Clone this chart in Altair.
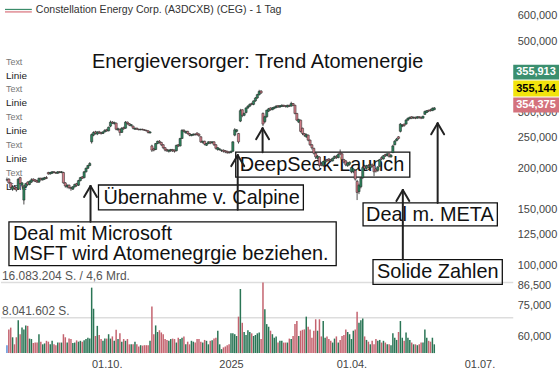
import altair as alt
import pandas as pd

# ---------------- data ----------------
opens = [
    185, 186, 181, 173, 176, 175, 173, 188, 178, 160,
    176, 182, 179, 182, 186, 185, 184, 182, 187, 185,
    186, 188, 195, 193, 194, 196, 195, 194, 196, 195,
    195, 181, 176, 178, 175, 173, 176, 180, 178, 184,
    189, 188, 196, 201, 205, 243, 255, 261, 257, 261,
    260, 258, 261, 265, 263, 272, 280, 277, 278, 265,
    266, 260, 269, 268, 280, 277, 273, 272, 266, 268,
    266, 265, 266, 265, 264, 263, 259, 236, 231, 230,
    240, 244, 242, 238, 233, 230, 227, 228, 230, 229,
    228, 238, 236, 249, 264, 259, 262, 258, 254, 255,
    257, 259, 257, 252, 242, 244, 237, 240, 243, 241,
    243, 238, 230, 230, 228, 229, 228, 227, 226, 225,
    227, 255, 262, 258, 282, 306, 294, 300, 310, 314,
    320, 318, 326, 333, 341, 350, 298, 281, 291, 303,
    310, 306, 309, 311, 315, 312, 313, 316, 315, 312,
    316, 314, 320, 316, 298, 280, 284, 268, 258, 252,
    255, 246, 238, 232, 224, 216, 218, 208, 205, 210,
    214, 215, 214, 212, 216, 219, 217, 225, 223, 214,
    212, 205, 207, 196, 196, 198, 183, 170, 176, 188,
    204, 201, 205, 202, 206, 205, 200, 198, 204, 217,
    215, 222, 220, 223, 218, 225, 238, 245, 252, 262,
    272, 276, 276, 284, 287, 291, 288, 290, 288, 291,
    290, 288, 296, 300, 305, 306, 304, 306,
]
closes = [
    185, 181, 175, 176, 174, 172, 186, 180, 181, 176,
    180, 179, 183, 185, 184, 183, 182, 187, 185, 187,
    188, 187, 193, 195, 196, 195, 194, 196, 195, 196,
    181, 177, 178, 175, 174, 176, 179, 178, 184, 188,
    187, 196, 201, 205, 208, 256, 260, 258, 261, 259,
    258, 261, 264, 263, 270, 280, 278, 279, 266, 267,
    260, 268, 267, 280, 277, 274, 275, 268, 268, 266,
    265, 266, 265, 264, 263, 260, 261, 229, 229, 240,
    244, 242, 238, 233, 229, 228, 229, 230, 228, 227,
    237, 236, 249, 264, 262, 262, 258, 255, 256, 257,
    256, 256, 254, 243, 244, 239, 240, 243, 241, 243,
    238, 232, 233, 231, 229, 227, 226, 225, 225, 227,
    243, 265, 265, 243, 304, 294, 298, 310, 314, 318,
    318, 326, 333, 341, 349, 345, 276, 291, 305, 308,
    306, 310, 312, 314, 312, 315, 316, 314, 313, 316,
    314, 320, 316, 298, 284, 285, 262, 258, 255, 256,
    246, 238, 233, 224, 218, 219, 205, 206, 211, 213,
    212, 213, 212, 216, 219, 217, 222, 223, 214, 210,
    206, 209, 210, 202, 200, 186, 169, 178, 187, 202,
    201, 205, 203, 206, 204, 196, 197, 203, 214, 215,
    220, 220, 223, 219, 221, 236, 244, 248, 249, 276,
    274, 273, 284, 288, 290, 288, 290, 288, 291, 289,
    288, 292, 302, 304, 303, 304, 309, 310,
]
highs = [
    188, 187, 182, 177, 178, 176, 187, 189, 182, 177,
    181, 183, 184, 187, 187, 186, 185, 188, 188, 188,
    189, 190, 196, 196, 197, 197, 196, 197, 197, 197,
    196, 182, 179, 179, 176, 177, 180, 181, 185, 189,
    190, 197, 202, 206, 210, 258, 262, 263, 262, 263,
    261, 262, 266, 267, 271, 283, 282, 281, 279, 269,
    267, 270, 271, 282, 281, 278, 276, 273, 269, 269,
    267, 267, 267, 266, 265, 264, 262, 238, 233, 241,
    245, 246, 243, 239, 234, 231, 230, 231, 231, 230,
    238, 239, 250, 266, 266, 263, 263, 259, 257, 258,
    258, 260, 258, 253, 245, 245, 241, 244, 244, 244,
    244, 239, 234, 232, 230, 230, 229, 228, 227, 228,
    244, 268, 266, 259, 308, 307, 300, 311, 316, 320,
    322, 327, 335, 343, 353, 352, 300, 293, 306, 310,
    311, 312, 313, 316, 316, 316, 318, 317, 316, 317,
    317, 324, 321, 317, 299, 287, 285, 269, 259, 258,
    256, 247, 239, 233, 225, 221, 219, 210, 212, 214,
    215, 216, 215, 217, 220, 221, 224, 230, 224, 215,
    213, 210, 211, 203, 201, 199, 185, 180, 189, 204,
    206, 206, 207, 207, 208, 206, 201, 204, 215, 219,
    221, 223, 224, 224, 222, 238, 246, 250, 253, 278,
    276, 277, 286, 289, 291, 292, 291, 291, 292, 292,
    291, 293, 304, 305, 306, 308, 311, 312,
]
lows = [
    183, 180, 173, 171, 173, 170, 172, 178, 176, 155,
    174, 177, 178, 181, 183, 182, 181, 181, 184, 184,
    185, 186, 192, 192, 193, 194, 193, 193, 194, 194,
    180, 175, 174, 173, 171, 172, 175, 176, 177, 183,
    186, 187, 195, 200, 204, 240, 253, 256, 255, 257,
    256, 257, 260, 261, 262, 270, 276, 275, 264, 263,
    254, 259, 265, 267, 275, 272, 271, 266, 265, 265,
    264, 264, 264, 263, 262, 258, 258, 226, 227, 229,
    239, 240, 236, 231, 227, 226, 225, 226, 226, 225,
    227, 234, 235, 248, 260, 258, 256, 253, 253, 254,
    254, 254, 252, 241, 240, 237, 236, 239, 239, 240,
    236, 230, 228, 228, 226, 225, 224, 223, 223, 224,
    226, 253, 260, 240, 280, 290, 292, 298, 308, 312,
    316, 316, 324, 331, 339, 343, 272, 278, 289, 301,
    304, 305, 307, 309, 310, 310, 312, 312, 311, 311,
    312, 313, 314, 296, 282, 278, 260, 255, 252, 250,
    244, 236, 230, 222, 215, 214, 202, 204, 203, 208,
    210, 211, 210, 211, 215, 215, 216, 221, 212, 208,
    204, 203, 205, 194, 194, 184, 160, 167, 174, 186,
    199, 199, 201, 200, 202, 190, 195, 196, 203, 213,
    214, 218, 219, 217, 217, 224, 237, 244, 247, 260,
    270, 271, 275, 283, 286, 286, 287, 286, 287, 287,
    286, 287, 295, 299, 301, 302, 303, 305,
]
# volume in millions of shares
volumes = [
    1.8, 5.4, 5.8, 3.6, 2.0, 3.6, 7.5, 4.3, 5.8, 5.4,
    6.3, 6.2, 3.3, 3.2, 2.3, 2.4, 2.4, 4.3, 2.6, 2.0,
    2.2, 2.8, 2.6, 2.0, 2.8, 2.0, 1.8, 2.4, 2.4, 2.4,
    4.3, 3.6, 2.4, 3.3, 3.2, 2.3, 2.4, 2.9, 2.6, 2.8,
    2.6, 2.9, 3.2, 3.5, 3.3, 14.9, 10.1, 3.9, 6.2, 4.1,
    3.2, 2.8, 3.3, 3.3, 4.3, 3.3, 3.8, 2.8, 5.3, 3.2,
    4.5, 2.6, 3.2, 2.8, 3.2, 2.0, 2.0, 2.0, 2.6, 2.0,
    1.5, 1.8, 1.7, 1.8, 1.8, 1.8, 2.8, 10.6, 4.3, 6.3,
    4.8, 5.2, 4.7, 4.3, 3.2, 3.0, 2.8, 3.2, 3.3, 3.2,
    2.4, 3.5, 3.2, 3.5, 3.8, 2.0, 2.6, 2.0, 2.8, 2.6,
    2.4, 3.2, 3.2, 2.6, 2.4, 3.0, 2.8, 2.0, 2.8, 2.9,
    3.3, 3.5, 5.1, 2.0, 0.9, 1.3, 1.5, 1.8, 2.0, 4.5,
    4.5, 4.3, 3.9, 8.3, 14.6, 6.9, 4.8, 4.1, 5.2, 4.8,
    4.5, 3.9, 4.1, 4.5, 4.7, 3.2, 16.08, 10.0, 6.6, 6.0,
    5.1, 4.3, 3.5, 3.8, 2.4, 2.8, 2.8, 2.4, 2.4, 2.4,
    3.3, 3.2, 3.9, 6.6, 7.3, 3.9, 5.1, 5.3, 5.4, 8.3,
    6.0, 5.4, 3.5, 5.1, 7.7, 5.1, 7.7, 3.8, 7.3, 3.5,
    3.8, 3.2, 2.8, 2.4, 3.3, 3.8, 2.4, 3.0, 3.9, 4.1,
    5.4, 4.8, 4.3, 3.2, 5.1, 5.4, 9.4, 6.9, 7.5, 7.9,
    3.8, 3.0, 2.6, 2.0, 2.8, 2.0, 3.2, 2.8, 3.0, 2.4,
    2.8, 2.4, 2.0, 2.0, 1.8, 4.5, 3.5, 3.0, 4.8, 7.3,
    3.5, 2.8, 4.7, 3.5, 3.0, 2.4, 2.0, 2.0, 1.8, 2.0,
    2.4, 2.4, 5.4, 3.5, 2.8, 2.6, 3.5, 2.0,
]

tick_idx = [53, 119, 183, 251]
tick_labels = ["01.10.", "2025", "01.04.", "01.07."]
price_ticks = [60, 75, 86.5, 100, 125, 150, 200, 250, 300, 400, 500, 600]
vol_lines = [16.083204, 8.041602]
vol_line_labels = ["16.083.204 S. / 4,6 Mrd.", "8.041.602 S."]
last_tags = ["355,913", "355,144", "354,375"]
header = "Constellation Energy Corp. (A3DCXB) (CEG) - 1 Tag"
title = "Energieversorger: Trend Atomenergie"
side_texts = ["Text", "Linie", "Text", "Linie", "Text", "Linie", "Text", "Linie", "Text", "Linie"]
notes = ["Übernahme v. Calpine", "Deal mit Microsoft", "MSFT wird Atomenegrgie beziehen.",
         "DeepSeek-Launch", "Deal m. META", "Solide Zahlen"]

# ---------------- layout / style constants ----------------
W, H = 515, 354
FONT = "Liberation Sans"
C_UP, C_DN, C_FLAT = "#2d865e", "#d27c87", "#5b8fd6"
V_UP, V_DN, V_FLAT = "#2a7555", "#c4636f", "#5b8fd6"

note_pos = [(103, 198), (12, 234), (12, 254), (240, 165), (367, 215), (378, 273)]
box_pos = [(98, 304, 185, 210), (8, 337, 222, 266), (236, 411, 152, 177),
           (364, 499, 203, 226), (374, 504, 260, 285)]
arrow_pos = [(90, 186, 222), (238, 155, 210), (263, 128, 152), (404, 190, 260), (439, 123, 203)]
side_y = [61, 75, 89, 103, 117, 131, 145, 159, 173, 187]
tag_pos = [(64, 79, "#3b8f6f", "white"), (80, 96, "#f2e40c", "black"), (97, 112, "#d4727d", "white")]

# ---------------- frames ----------------
def direction(o, c):
    return "up" if c > o else ("down" if c < o else "flat")

df = pd.DataFrame({
    "idx": list(range(len(closes))),
    "open": opens, "close": closes, "high": highs, "low": lows,
    "vol": volumes,
    "dir": [direction(o, c) for o, c in zip(opens, closes)],
})

x_scale = alt.Scale(domain=[-0.52, 266.3], nice=False, zero=False)
price_scale = alt.Scale(type="log", domain=[53.35, 667.8], nice=False, zero=False)
vol_scale = alt.Scale(domain=[0, 80.17], nice=False, zero=True)

label_expr = "''"
for v, t in reversed(list(zip(tick_idx, tick_labels))):
    label_expr = f"datum.value == {v} ? '{t}' : ({label_expr})"

x_axis = alt.Axis(values=tick_idx, labelExpr=label_expr, grid=False, ticks=False, domain=False,
                  labelFontSize=11, labelColor="#444", labelPadding=5, labelFont=FONT,
                  title=None, labelFlush=False)
y_axis = alt.Axis(orient="right", values=price_ticks, labelExpr="format(datum.value * 1000, ',')",
                  grid=False, ticks=False, domain=False, labelFontSize=11, labelColor="#444",
                  labelPadding=4, labelFont=FONT, title=None, labelOverlap=False, labelFlush=False)

X = alt.X("idx:Q", scale=x_scale, axis=x_axis)
base = alt.Chart(df)

# left "Text / Linie" column
side_df = pd.DataFrame({"t": side_texts, "y": side_y,
                        "c": ["#777777" if s == "Text" else "#222222" for s in side_texts],
                        "s": [9 if s == "Text" else 10 for s in side_texts]})
side = alt.Chart(side_df).mark_text(align="left", baseline="middle", font=FONT).encode(
    x=alt.value(5), y=alt.Y("y:Q", scale=None), text="t:N",
    color=alt.Color("c:N", scale=None), size=alt.Size("s:Q", scale=None))

# volume grid + labels
vl_df = pd.DataFrame({"v": vol_lines, "t": vol_line_labels})
vgrid = alt.Chart(vl_df).mark_rule(color="#dddddd", strokeWidth=1.5).encode(
    y=alt.Y("v:Q", scale=vol_scale, axis=None), x=alt.value(0), x2=alt.value(W))
vtext = alt.Chart(vl_df).mark_text(align="left", baseline="middle", dy=-6.5, fontSize=12,
                                   font=FONT, color="#555555").encode(
    y=alt.Y("v:Q", scale=vol_scale, axis=None), x=alt.value(1), text="t:N")

vbars = base.mark_bar(size=1.5).encode(
    x=X, y=alt.Y("vol:Q", scale=vol_scale, axis=None),
    color=alt.Color("dir:N", scale=alt.Scale(domain=["up", "down", "flat"], range=[V_UP, V_DN, V_FLAT]),
                    legend=None))

# annotation boxes + texts
box_df = pd.DataFrame(box_pos, columns=["x1", "x2", "y1", "y2"])
boxes = alt.Chart(box_df).mark_rect(fillOpacity=0, stroke="#111111", strokeWidth=1.3).encode(
    x=alt.X("x1:Q", scale=None), x2="x2:Q", y=alt.Y("y1:Q", scale=None), y2="y2:Q")
note_df = pd.DataFrame({"t": notes, "x": [p[0] for p in note_pos], "y": [p[1] for p in note_pos]})
note_text = alt.Chart(note_df).mark_text(align="left", baseline="middle", fontSize=20, font=FONT,
                                         color="#111111").encode(
    x=alt.X("x:Q", scale=None), y=alt.Y("y:Q", scale=None), text="t:N")

# candles
wicks = base.mark_rule(color="#222222", strokeWidth=0.8).encode(
    x=X, y=alt.Y("low:Q", scale=price_scale, axis=y_axis), y2="high:Q")
bodies = base.mark_bar(size=2.2, stroke="#222222", strokeWidth=0.5).encode(
    x=X, y=alt.Y("open:Q", scale=price_scale, axis=None), y2="close:Q",
    color=alt.Color("dir:N", scale=alt.Scale(domain=["up", "down", "flat"], range=[C_UP, C_DN, C_FLAT]),
                    legend=None))

# arrows (shaft + chevron head)
segs = []
for ax, tip, bottom in arrow_pos:
    segs.append((ax, ax, tip, bottom))
    segs.append((ax - 6.5, ax, tip + 11, tip))
    segs.append((ax + 6.5, ax, tip + 11, tip))
seg_df = pd.DataFrame(segs, columns=["x1", "x2", "y1", "y2"])
arrows = alt.Chart(seg_df).mark_rule(strokeWidth=2, color="#222222", strokeCap="round").encode(
    x=alt.X("x1:Q", scale=None), x2="x2:Q", y=alt.Y("y1:Q", scale=None), y2="y2:Q")

# header legend
one = pd.DataFrame({"k": [0]})
icon_g = alt.Chart(one).mark_rule(color="#3a8c6a", strokeWidth=1.2).encode(
    x=alt.value(4), x2=alt.value(31), y=alt.value(8.5))
icon_r = alt.Chart(one).mark_rule(color="#d9707a", strokeWidth=1.2).encode(
    x=alt.value(4), x2=alt.value(31), y=alt.value(11))
head = alt.Chart(pd.DataFrame({"t": [header]})).mark_text(
    align="left", baseline="middle", fontSize=10.6, font=FONT, color="#333333").encode(
    x=alt.value(35), y=alt.value(9.5), text="t:N")
ttl = alt.Chart(pd.DataFrame({"t": [title]})).mark_text(
    align="center", baseline="middle", fontSize=20, font=FONT, color="#111111").encode(
    x=alt.value(258), y=alt.value(61), text="t:N")

# last-price tags on the right
tag_df = pd.DataFrame({"t": last_tags, "y1": [p[0] for p in tag_pos], "y2": [p[1] for p in tag_pos],
                       "fill": [p[2] for p in tag_pos], "tc": [p[3] for p in tag_pos]})
tag_df["ym"] = (tag_df["y1"] + tag_df["y2"]) / 2
tag_rect = alt.Chart(tag_df).mark_rect().encode(
    x=alt.value(W), x2=alt.value(W + 46), y=alt.Y("y1:Q", scale=None), y2="y2:Q",
    fill=alt.Fill("fill:N", scale=None))
tag_text = alt.Chart(tag_df).mark_text(align="left", baseline="middle", fontSize=11, font=FONT,
                                       fontWeight=600).encode(
    x=alt.value(W + 3), y=alt.Y("ym:Q", scale=None), text="t:N", color=alt.Color("tc:N", scale=None))

chart = alt.layer(
    side, vgrid, vtext, vbars, boxes, note_text, wicks, bodies, arrows,
    icon_g, icon_r, head, ttl, tag_rect, tag_text,
).resolve_scale(y="independent", color="independent").properties(
    width=W, height=H, padding=0, background="white"
).configure_view(stroke="transparent")

chart.save("out.html", embed_options={"renderer": "svg", "actions": False})
